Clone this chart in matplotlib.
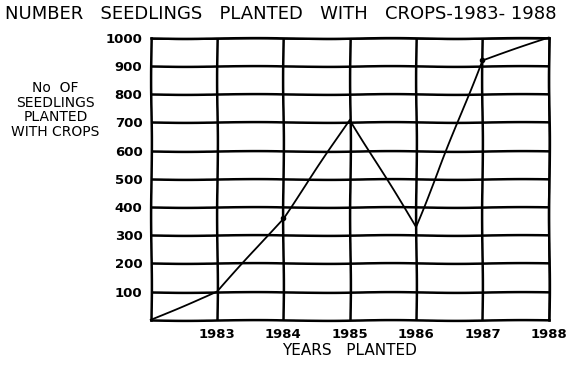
import matplotlib
matplotlib.use("Agg")
import matplotlib.pyplot as plt

# values
years = ["", "1983", "1984", "1985", "1986", "1987", "1988"]
seedlings = [0, 100, 360, 710, 330, 920, 1000]
y_ticks = [100, 200, 300, 400, 500, 600, 700, 800, 900, 1000]

plt.rcParams['font.family'] = 'DejaVu Sans'
plt.rcParams['path.sketch'] = (0.4, 150, 2)

fig = plt.figure(figsize=(5.71, 3.66), dpi=100)
ax = fig.add_axes([0.264, 0.126, 0.697, 0.771])

x = list(range(len(years)))
ax.plot(x, seedlings, color='black', lw=1.3, marker='o', ms=3,
        markevery=[2, 5], zorder=3, clip_on=False)

ax.set_xlim(0, len(years) - 1)
ax.set_ylim(0, 1000)
ax.set_xticks(x[1:])
ax.set_xticklabels(years[1:], fontsize=9.5, fontweight='bold')
ax.set_yticks(y_ticks)
ax.set_yticklabels([str(v) for v in y_ticks], fontsize=9.5, fontweight='bold')
ax.tick_params(length=0, pad=6)
ax.grid(True, color='black', lw=1.8)
for s in ax.spines.values():
    s.set_linewidth(1.8)

ax.set_xlabel("YEARS   PLANTED", fontsize=11, labelpad=1)
fig.text(0.097, 0.70, "No  OF\nSEEDLINGS\nPLANTED\nWITH CROPS", fontsize=10,
         ha='center', va='center', linespacing=1.05)
fig.text(0.008, 0.963, "NUMBER   SEEDLINGS   PLANTED   WITH   CROPS-1983- 1988",
         fontsize=13, ha='left', va='center')

fig.savefig("out.png", dpi=100)
